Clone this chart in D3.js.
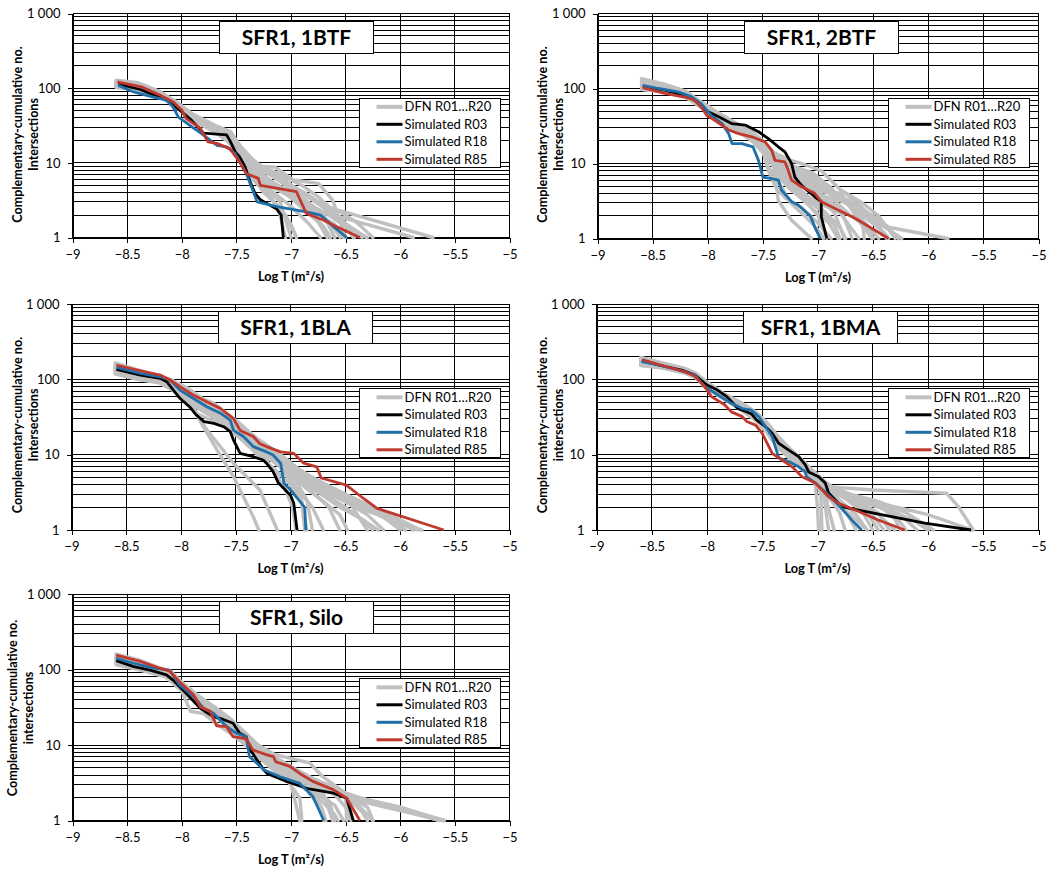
<!DOCTYPE html>
<html><head><meta charset="utf-8">
<script src="https://cdn.jsdelivr.net/npm/d3@7"></script>
<style>
body{margin:0;background:#fff;}
svg{display:block;}
text{font-family:Lato,'Open Sans',sans-serif;fill:#000;}
</style>
</head><body>
<svg id="c" width="1050" height="872"></svg>
<script>
// ---------- labels ----------
const xTicks = [-9,-8.5,-8,-7.5,-7,-6.5,-6,-5.5,-5];
const yTicks = [1,10,100,1000];
const yTickLabels = ["1","10","100","1 000"];
const titles = ["SFR1, 1BTF","SFR1, 2BTF","SFR1, 1BLA","SFR1, 1BMA","SFR1, Silo"];
const yTitleLine1 = "Complementary-cumulative no.";
const yTitleLine2 = ["Intersections","Intersections","Intersections","intersections","intersections"];
const xTitle = "Log T (m\u00B2/s)";
const legendLabels = ["DFN R01\u2026R20","Simulated R03","Simulated R18","Simulated R85"];

// ---------- 1BTF ----------
const dfn1BTF = [
[[-8.6,128],[-8.4,118],[-8.2,90],[-8.05,62],[-7.9,42],[-7.7,30],[-7.55,24],[-7.45,14],[-7.3,9],[-7.15,8.8],[-6.98,5.9],[-6.75,5.3],[-6.62,3.2],[-6.5,1]],
[[-8.6,115],[-8.45,108],[-8.25,88],[-8.1,70],[-7.95,45],[-7.75,32],[-7.6,26],[-7.5,18],[-7.35,10],[-7.1,6],[-6.9,4],[-6.74,2.85],[-6.56,2.3],[-5.7,1]],
[[-8.6,105],[-8.4,100],[-8.2,82],[-8.05,60],[-7.9,40],[-7.7,28],[-7.55,22],[-7.45,13],[-7.3,7],[-7.0,4],[-6.8,2.4],[-6.56,1.9],[-5.88,1]],
[[-8.6,120],[-8.35,110],[-8.15,78],[-8.0,52],[-7.85,36],[-7.65,27],[-7.5,16],[-7.4,9],[-7.25,5],[-7.1,3],[-7.0,1]],
[[-8.6,110],[-8.4,104],[-8.2,85],[-8.05,58],[-7.9,38],[-7.7,29],[-7.55,20],[-7.45,11],[-7.35,6],[-7.2,3.5],[-7.05,2],[-6.95,1]],
[[-8.6,125],[-8.4,112],[-8.2,88],[-8.05,64],[-7.9,44],[-7.7,31],[-7.55,25],[-7.45,15],[-7.35,10],[-7.2,7],[-7.0,4.5],[-6.85,3],[-6.7,2],[-6.6,1]],
[[-8.6,108],[-8.45,100],[-8.25,84],[-8.1,68],[-7.95,43],[-7.75,30],[-7.6,22],[-7.5,15],[-7.4,9],[-7.25,6],[-7.05,4],[-6.9,2.5],[-6.75,1.6],[-6.67,1]],
[[-8.6,118],[-8.4,108],[-8.2,86],[-8.05,60],[-7.9,41],[-7.7,30],[-7.55,23],[-7.45,14],[-7.35,8],[-7.2,5],[-7.0,3.5],[-6.8,2.2],[-6.6,1.5],[-6.52,1]],
[[-8.6,112],[-8.4,103],[-8.2,80],[-8.05,57],[-7.9,38],[-7.7,27],[-7.55,19],[-7.45,12],[-7.3,7.5],[-7.15,5],[-6.95,3.2],[-6.7,2.2],[-6.5,1.4],[-6.43,1]],
[[-8.6,102],[-8.45,97],[-8.25,80],[-8.1,66],[-7.95,42],[-7.75,29],[-7.6,21],[-7.5,14],[-7.4,8.5],[-7.2,5.5],[-7.0,3.8],[-6.8,2.6],[-6.55,1.7],[-6.31,1]],
[[-8.6,122],[-8.4,113],[-8.2,90],[-8.05,63],[-7.9,42],[-7.7,31],[-7.55,24],[-7.45,16],[-7.35,11],[-7.2,7.5],[-7.05,5],[-6.9,3.5],[-6.7,2],[-6.6,1]],
[[-8.6,106],[-8.4,99],[-8.2,80],[-8.05,55],[-7.9,37],[-7.7,26],[-7.55,18],[-7.45,11],[-7.35,6.5],[-7.25,4],[-7.1,2.5],[-7.0,1.5],[-6.95,1]],
[[-8.6,116],[-8.4,107],[-8.2,86],[-8.05,61],[-7.9,40],[-7.7,29],[-7.55,22],[-7.45,13],[-7.3,8],[-7.1,6.5],[-6.9,4],[-6.7,2.5],[-6.45,1.3],[-6.35,1]],
[[-8.6,111],[-8.4,102],[-8.2,83],[-8.05,59],[-7.9,39],[-7.7,28],[-7.55,21],[-7.45,12.5],[-7.35,7],[-7.2,4.5],[-7.0,2.6],[-6.85,1.6],[-6.73,1]],
[[-8.6,124],[-8.4,115],[-8.2,89],[-8.05,66],[-7.9,45],[-7.7,32],[-7.55,26],[-7.5,20],[-7.4,12],[-7.25,8],[-7.05,5.5],[-6.85,3.8],[-6.65,2.4],[-6.5,1.5],[-6.42,1]],
[[-8.6,104],[-8.4,98],[-8.2,79],[-8.05,56],[-7.9,37],[-7.7,27],[-7.55,19],[-7.45,12],[-7.35,7],[-7.2,4],[-7.1,2],[-7.05,1]],
[[-8.6,119],[-8.4,110],[-8.2,87],[-8.05,62],[-7.9,41],[-7.7,30],[-7.55,23],[-7.45,15],[-7.3,9.5],[-7.1,7],[-6.9,5],[-6.75,3.5],[-6.6,2.2],[-6.45,1.3],[-6.3,1]],
[[-8.6,109],[-8.4,101],[-8.2,82],[-8.05,58],[-7.9,39],[-7.7,28],[-7.55,20],[-7.45,13],[-7.35,8],[-7.15,5],[-6.95,3],[-6.8,2],[-6.7,1.4],[-6.64,1]],
[[-8.6,113],[-8.4,105],[-8.2,84],[-8.05,60],[-7.9,40],[-7.7,29],[-7.55,21],[-7.45,14],[-7.3,9],[-7.15,6.5],[-7.0,4.8],[-6.8,3.2],[-6.7,2.6],[-6.55,2.2],[-6.4,1.6],[-6.25,1]],
[[-8.6,121],[-8.4,111],[-8.2,88],[-8.05,63],[-7.9,43],[-7.7,31],[-7.55,24],[-7.45,14],[-7.35,9],[-7.2,6],[-7.05,4.2],[-6.9,3],[-6.75,2],[-6.6,1.3],[-6.55,1]]
];
const r03_1BTF = [[-8.58,113],[-8.38,96],[-8.14,69],[-8.02,51],[-7.91,37],[-7.8,25],[-7.59,23.7],[-7.56,20],[-7.51,14],[-7.47,12],[-7.42,8.8],[-7.38,5.9],[-7.33,3.9],[-7.28,3.2],[-7.13,2.4],[-7.09,2],[-7.07,1]];
const r18_1BTF = [[-8.58,109],[-8.44,89],[-8.26,76],[-8.14,69],[-8.08,56],[-8.03,41],[-7.91,30.5],[-7.8,23.5],[-7.68,17.2],[-7.59,16.4],[-7.51,13.3],[-7.47,10.3],[-7.41,7.2],[-7.35,4.3],[-7.31,3],[-7.13,2.6],[-6.86,2.2],[-6.73,2],[-6.61,1.4],[-6.49,1]];
const r85_1BTF = [[-8.59,121],[-8.37,104],[-8.23,85],[-8.08,66],[-8.03,56],[-8,51],[-7.96,39],[-7.83,29],[-7.76,19.1],[-7.68,18.2],[-7.56,15.5],[-7.47,10.3],[-7.41,7.2],[-7.3,6.2],[-7.28,5],[-6.95,4.1],[-6.86,2.1],[-6.7,1.7],[-6.61,1.46],[-6.37,1]];

// ---------- 2BTF ----------
const dfn2BTF = [
[[-8.6,135],[-8.4,115],[-8.2,92],[-8.05,65],[-7.9,47],[-7.75,35],[-7.6,27],[-7.5,20],[-7.4,14],[-7.25,11],[-7.15,10],[-6.97,8],[-6.8,4.5],[-6.6,3],[-6.45,2],[-6.3,1]],
[[-8.6,100],[-8.4,92],[-8.2,78],[-8.05,57],[-7.9,39],[-7.75,29],[-7.6,21],[-7.5,15],[-7.4,9],[-7.36,3.2],[-7.24,1.75],[-7.06,1]],
[[-8.6,118],[-8.4,104],[-8.2,85],[-8.05,60],[-7.9,43],[-7.75,32],[-7.6,24],[-7.5,17],[-7.4,11],[-7.3,7],[-7.15,5],[-7.0,3.5],[-6.85,2.2],[-6.76,1]],
[[-8.6,110],[-8.4,100],[-8.2,83],[-8.05,58],[-7.9,41],[-7.75,30],[-7.6,23],[-7.5,16],[-7.45,8],[-7.39,5],[-7.3,3.5],[-7.15,2.6],[-7.0,1.6],[-6.88,1]],
[[-8.6,125],[-8.4,110],[-8.2,88],[-8.05,62],[-7.9,44],[-7.75,33],[-7.6,25],[-7.5,18],[-7.4,12],[-7.25,8.5],[-7.1,6],[-6.95,4.5],[-6.78,3.8],[-6.7,2.5],[-6.6,1.5],[-6.51,1]],
[[-8.6,105],[-8.4,96],[-8.2,80],[-8.05,56],[-7.9,40],[-7.75,29],[-7.6,22],[-7.5,15],[-7.4,10],[-7.3,6.5],[-7.15,4],[-7.0,3],[-6.8,2.2],[-6.63,1]],
[[-8.6,115],[-8.4,103],[-8.2,86],[-8.05,61],[-7.9,42],[-7.75,31],[-7.6,23],[-7.5,17],[-7.4,11.5],[-7.3,8],[-7.15,6],[-6.98,4.2],[-6.75,4],[-6.6,2.6],[-6.45,1.6],[-6.24,1]],
[[-8.6,98],[-8.4,91],[-8.2,77],[-8.05,55],[-7.9,38],[-7.75,28],[-7.6,20],[-7.5,14],[-7.45,9],[-7.35,5.5],[-7.25,3],[-7.12,2],[-7.0,1.3],[-6.95,1]],
[[-8.6,128],[-8.4,112],[-8.2,90],[-8.05,63],[-7.9,45],[-7.75,34],[-7.6,26],[-7.5,19],[-7.4,13],[-7.25,9.5],[-7.05,7.5],[-6.9,5],[-6.75,3],[-6.55,2.2],[-6.35,1.4],[-5.82,1]],
[[-8.6,108],[-8.4,98],[-8.2,82],[-8.05,58],[-7.9,41],[-7.75,30],[-7.6,22],[-7.5,16],[-7.4,10.5],[-7.3,7.5],[-7.15,5],[-6.95,3.3],[-6.8,2.6],[-6.69,1]],
[[-8.6,120],[-8.4,107],[-8.2,87],[-8.05,61],[-7.9,43],[-7.75,32],[-7.6,24],[-7.5,18],[-7.4,12],[-7.3,8.5],[-7.1,7],[-6.95,5.5],[-6.8,3.5],[-6.65,2.2],[-6.45,1]],
[[-8.6,102],[-8.4,94],[-8.2,79],[-8.05,56],[-7.9,39],[-7.75,29],[-7.6,21],[-7.5,15],[-7.4,9.5],[-7.3,6],[-7.2,4],[-7.05,2.5],[-6.9,1.6],[-6.82,1]],
[[-8.6,112],[-8.4,101],[-8.2,84],[-8.05,59],[-7.9,42],[-7.75,31],[-7.6,23],[-7.5,17],[-7.4,11],[-7.3,7.8],[-7.15,5.5],[-7.0,4],[-6.85,3.2],[-6.7,2],[-6.55,1.4],[-6.5,1]],
[[-8.6,122],[-8.4,108],[-8.2,88],[-8.05,62],[-7.9,44],[-7.75,33],[-7.6,25],[-7.5,18],[-7.4,12.5],[-7.25,9],[-7.1,7.5],[-6.97,6],[-6.85,4],[-6.7,2.8],[-6.55,1.8],[-6.4,1.2],[-6.36,1]],
[[-8.6,106],[-8.4,97],[-8.2,81],[-8.05,57],[-7.9,40],[-7.75,30],[-7.6,22],[-7.5,16],[-7.4,10],[-7.3,7],[-7.2,5],[-7.05,3.2],[-6.9,2],[-6.8,1.4],[-6.75,1]],
[[-8.6,116],[-8.4,104],[-8.2,86],[-8.05,60],[-7.9,43],[-7.75,31],[-7.6,24],[-7.5,17],[-7.4,11],[-7.28,8],[-7.1,6.5],[-6.9,4.5],[-6.7,3],[-6.5,2],[-6.35,1.3],[-6.27,1]],
[[-8.6,97],[-8.4,90],[-8.2,76],[-8.05,55],[-7.9,38],[-7.75,28],[-7.6,21],[-7.5,15],[-7.42,10],[-7.35,6.5],[-7.25,4.5],[-7.1,3],[-7.0,2],[-6.92,1]],
[[-8.6,113],[-8.4,102],[-8.2,84],[-8.05,59],[-7.9,42],[-7.75,31],[-7.6,23],[-7.5,17],[-7.4,11],[-7.25,8.5],[-7.05,6],[-6.9,4.2],[-6.72,3.2],[-6.6,1.8],[-6.58,1]],
[[-8.6,124],[-8.4,109],[-8.2,89],[-8.05,62],[-7.9,44],[-7.75,32],[-7.6,25],[-7.5,18],[-7.4,12],[-7.3,9],[-7.15,7],[-7.0,5],[-6.85,3.5],[-6.65,2.5],[-6.45,1.5],[-6.38,1]],
[[-8.6,104],[-8.4,95],[-8.2,80],[-8.05,57],[-7.9,40],[-7.75,29],[-7.6,22],[-7.5,15.5],[-7.4,10],[-7.32,6],[-7.2,4.2],[-7.1,3.3],[-6.98,2.4],[-6.85,1.5],[-6.8,1]]
];
const r03_2BTF = [[-8.59,107],[-8.39,95],[-8.21,81],[-8.12,70],[-8.03,51.5],[-7.9,42],[-7.78,34],[-7.66,32.5],[-7.54,26.5],[-7.45,21.5],[-7.36,16.7],[-7.3,14.3],[-7.24,10],[-7.21,6.6],[-7.15,5.1],[-7.03,3.6],[-6.97,3.1],[-6.97,1.95],[-6.92,1]];
const r18_2BTF = [[-8.59,110],[-8.45,100],[-8.27,90],[-8.15,78],[-8.06,63],[-7.97,44],[-7.87,34],[-7.81,25],[-7.78,18.4],[-7.69,18.4],[-7.59,16.7],[-7.54,11],[-7.5,6.6],[-7.42,6.3],[-7.36,6],[-7.33,4.4],[-7.24,3.1],[-7.18,2.8],[-7.07,2],[-7.03,1.43],[-6.98,1]];
const r85_2BTF = [[-8.59,103],[-8.39,86],[-8.21,77],[-8.12,70],[-8.06,57],[-8.01,44],[-7.94,38],[-7.81,28],[-7.72,25],[-7.6,22.7],[-7.48,19.4],[-7.42,15],[-7.39,11],[-7.3,10.5],[-7.27,8.1],[-7.24,6],[-7.15,4.9],[-7.03,4],[-6.97,3.1],[-6.66,1.85],[-6.36,1]];

// ---------- 1BLA ----------
const dfn1BLA = [
[[-8.6,120],[-8.4,103],[-8.2,92],[-8.05,70],[-7.9,45],[-7.82,27],[-7.67,11.5],[-7.52,5.1],[-7.34,1.5],[-7.29,1]],
[[-8.6,118],[-8.4,100],[-8.2,90],[-8.05,68],[-7.9,42],[-7.76,21],[-7.52,7.7],[-7.28,3.4],[-7.12,1]],
[[-8.6,165],[-8.4,135],[-8.2,112],[-8.1,100],[-7.95,78],[-7.8,55],[-7.7,45],[-7.6,36],[-7.5,28],[-7.35,18],[-7.2,13],[-7.05,9],[-6.9,6],[-6.7,4],[-6.5,2.6],[-6.3,1.8],[-5.85,1]],
[[-8.6,150],[-8.4,125],[-8.2,105],[-8.1,95],[-8.0,70],[-7.85,50],[-7.7,38],[-7.55,28],[-7.4,18],[-7.25,12],[-7.1,8],[-6.95,5.5],[-6.8,4],[-6.6,2.8],[-6.4,2],[-6.0,1.3],[-5.8,1]],
[[-8.6,140],[-8.4,120],[-8.2,100],[-8.1,92],[-8.0,66],[-7.85,46],[-7.7,35],[-7.55,26],[-7.4,17],[-7.25,11],[-7.1,7.5],[-7.0,5],[-6.9,2.5],[-6.85,1]],
[[-8.6,130],[-8.4,112],[-8.2,97],[-8.1,90],[-8.0,64],[-7.85,44],[-7.7,33],[-7.55,24],[-7.4,16],[-7.25,11],[-7.1,7.5],[-6.95,5],[-6.75,3.2],[-6.55,2],[-6.35,1.4],[-6.2,1]],
[[-8.6,155],[-8.4,130],[-8.2,108],[-8.1,97],[-8.0,75],[-7.85,52],[-7.7,40],[-7.55,29],[-7.4,19],[-7.25,13],[-7.1,9],[-6.95,6.5],[-6.8,4.5],[-6.6,3.2],[-6.4,2.3],[-6.2,1.6],[-5.95,1]],
[[-8.6,125],[-8.4,108],[-8.2,95],[-8.1,88],[-8.0,63],[-7.85,42],[-7.7,31],[-7.55,23],[-7.4,15],[-7.25,10],[-7.1,7],[-7.0,4.5],[-6.9,3],[-6.8,2],[-6.7,1]],
[[-8.6,145],[-8.4,122],[-8.2,102],[-8.1,93],[-8.0,68],[-7.85,48],[-7.7,36],[-7.55,26],[-7.4,17],[-7.25,12],[-7.1,8.5],[-6.95,6],[-6.8,4.2],[-6.6,3],[-6.45,2.2],[-6.3,1]],
[[-8.6,135],[-8.4,116],[-8.2,99],[-8.1,91],[-8.0,65],[-7.85,45],[-7.7,34],[-7.55,25],[-7.4,16],[-7.25,11],[-7.1,7.8],[-7.0,5.5],[-6.85,3.5],[-6.7,2.4],[-6.55,1.6],[-6.48,1]],
[[-8.6,160],[-8.4,132],[-8.2,110],[-8.1,99],[-8.0,77],[-7.9,62],[-7.8,55],[-7.7,48],[-7.6,37],[-7.45,25],[-7.3,16],[-7.15,11],[-7.0,7],[-6.85,5],[-6.7,3.6],[-6.5,2.5],[-6.25,1.8],[-6.0,1.3],[-5.88,1]],
[[-8.6,128],[-8.4,110],[-8.2,96],[-8.1,89],[-8.0,62],[-7.85,43],[-7.7,32],[-7.55,23],[-7.4,15],[-7.25,10.5],[-7.1,7.2],[-6.95,4.5],[-6.85,2.5],[-6.8,1]],
[[-8.6,148],[-8.4,124],[-8.2,104],[-8.1,94],[-8.0,69],[-7.85,49],[-7.7,37],[-7.55,27],[-7.4,18],[-7.25,12.5],[-7.1,8.8],[-6.95,6.2],[-6.75,4],[-6.55,2.8],[-6.35,2],[-6.1,1.4],[-5.95,1]],
[[-8.6,138],[-8.4,118],[-8.2,100],[-8.1,92],[-8.0,66],[-7.85,46],[-7.7,35],[-7.55,25],[-7.4,17],[-7.25,11.5],[-7.1,8],[-6.95,5.5],[-6.8,3.8],[-6.6,2.5],[-6.4,1.6],[-6.25,1]],
[[-8.6,122],[-8.4,106],[-8.2,94],[-8.1,87],[-8.0,61],[-7.85,42],[-7.7,31],[-7.55,22],[-7.4,14],[-7.25,9.5],[-7.15,6],[-7.05,3.5],[-6.98,2],[-6.95,1]],
[[-8.6,152],[-8.4,127],[-8.2,106],[-8.1,96],[-8.0,72],[-7.85,51],[-7.7,39],[-7.55,28],[-7.4,18.5],[-7.25,12.5],[-7.1,9],[-6.95,6.5],[-6.75,4.5],[-6.5,3],[-6.3,2.2],[-6.05,1.5],[-5.82,1]],
[[-8.6,132],[-8.4,114],[-8.2,98],[-8.1,90],[-8.0,64],[-7.85,45],[-7.7,33],[-7.55,24],[-7.4,16],[-7.25,10.5],[-7.1,7.2],[-6.95,5],[-6.8,3.2],[-6.65,2],[-6.55,1]],
[[-8.6,142],[-8.4,120],[-8.2,101],[-8.1,92],[-8.0,67],[-7.85,47],[-7.7,35],[-7.55,26],[-7.4,17],[-7.25,11.8],[-7.1,8.2],[-6.95,5.8],[-6.75,3.8],[-6.5,2.4],[-6.3,1.6],[-6.15,1]],
[[-8.6,118],[-8.4,102],[-8.2,92],[-8.05,72],[-7.95,55],[-7.85,35],[-7.75,30],[-7.6,24],[-7.45,16],[-7.3,10],[-7.15,6.5],[-7.0,4],[-6.9,2.5],[-6.87,1]],
[[-8.6,158],[-8.4,131],[-8.2,109],[-8.1,98],[-8.0,74],[-7.85,53],[-7.7,41],[-7.55,30],[-7.4,20],[-7.25,13.5],[-7.1,9.5],[-6.95,6.8],[-6.8,5],[-6.6,3.5],[-6.45,2.5],[-6.2,1.7],[-6.0,1]]
];
const r03_1BLA = [[-8.59,136],[-8.37,114],[-8.19,103],[-8.13,93],[-8.07,72],[-8.01,56],[-7.92,43],[-7.86,33.6],[-7.79,27.5],[-7.7,26],[-7.61,23.5],[-7.55,20.2],[-7.52,15.6],[-7.46,10.4],[-7.34,9.4],[-7.25,8.5],[-7.22,7.7],[-7.16,6],[-7.11,4.2],[-7.0,2.9],[-6.97,2.26],[-6.94,1]];
const r18_1BLA = [[-8.59,144],[-8.37,120],[-8.19,108],[-8.1,98],[-8.01,72],[-7.89,56],[-7.76,43],[-7.64,35.5],[-7.55,28.8],[-7.52,21],[-7.43,17.4],[-7.34,12.8],[-7.22,10.9],[-7.16,9.9],[-7.09,7.7],[-7.06,4.2],[-7.0,3.4],[-6.87,2],[-6.86,1]];
const r85_1BLA = [[-8.59,155],[-8.37,130],[-8.19,114],[-8.1,98],[-8.01,80],[-7.89,62],[-7.76,50],[-7.64,41],[-7.52,30],[-7.46,21],[-7.34,17.4],[-7.28,14],[-7.22,12.8],[-7.09,10.9],[-6.97,10.4],[-6.88,7.7],[-6.76,6.9],[-6.72,4.9],[-6.49,3.95],[-6.33,2.6],[-6.21,1.94],[-5.6,1]];

// ---------- 1BMA ----------
const dfn1BMA = [
[[-8.6,195],[-8.4,165],[-8.2,140],[-8.1,120],[-8,92],[-7.85,65],[-7.7,50],[-7.55,36],[-7.45,26],[-7.35,17],[-7.25,12],[-7.1,7.5],[-6.95,3.8],[-6.5,3.4],[-5.83,3.07],[-5.72,2],[-5.59,1]],
[[-8.6,155],[-8.4,142],[-8.2,122],[-8.1,106],[-8,76],[-7.85,55],[-7.7,40],[-7.55,28],[-7.45,19],[-7.35,12],[-7.25,9],[-7.1,6],[-7.02,4],[-7,2],[-6.99,1]],
[[-8.6,165],[-8.4,148],[-8.2,128],[-8.1,110],[-8,80],[-7.85,58],[-7.7,43],[-7.55,30],[-7.45,21],[-7.35,13.5],[-7.25,10],[-7.1,6.5],[-7,4],[-6.97,3],[-6.96,1]],
[[-8.6,170],[-8.4,150],[-8.2,130],[-8.1,112],[-8,82],[-7.85,60],[-7.7,45],[-7.55,32],[-7.45,22],[-7.35,14],[-7.25,10.5],[-7.1,6.2],[-7,4.3],[-6.92,2.5],[-6.85,1]],
[[-8.6,180],[-8.4,155],[-8.2,133],[-8.1,114],[-8,85],[-7.85,61],[-7.7,46],[-7.55,33],[-7.45,23],[-7.35,15],[-7.25,11],[-7.1,6.8],[-7,5],[-6.9,3.5],[-6.8,2.5],[-6.65,1.6],[-6.55,1]],
[[-8.6,160],[-8.4,145],[-8.2,125],[-8.1,108],[-8,78],[-7.85,57],[-7.7,42],[-7.55,29],[-7.45,20],[-7.35,13],[-7.25,9.5],[-7.1,6.3],[-7,4.5],[-6.9,3.8],[-6.75,2.6],[-6.6,1.8],[-6.5,1]],
[[-8.6,175],[-8.4,152],[-8.2,131],[-8.1,113],[-8,84],[-7.85,60],[-7.7,45],[-7.55,32],[-7.45,22],[-7.35,14.5],[-7.25,10.5],[-7.1,7],[-7,5],[-6.85,3.5],[-6.7,2.7],[-6.55,2],[-6.4,1]],
[[-8.6,185],[-8.4,158],[-8.2,136],[-8.1,116],[-8,88],[-7.85,63],[-7.7,48],[-7.55,34],[-7.45,24],[-7.35,16],[-7.25,11.5],[-7.1,7.2],[-7,5.2],[-6.85,3.6],[-6.7,2.8],[-6.5,2.2],[-6.3,1.6],[-6.2,1]],
[[-8.6,172],[-8.4,151],[-8.2,130],[-8.1,112],[-8,83],[-7.85,59],[-7.7,44],[-7.55,31],[-7.45,22],[-7.35,14],[-7.25,10],[-7.1,6.6],[-7,4.8],[-6.85,3.2],[-6.65,2.5],[-6.4,1.9],[-6.15,1.4],[-6,1]],
[[-8.6,190],[-8.4,162],[-8.2,138],[-8.1,118],[-8,90],[-7.85,64],[-7.7,49],[-7.55,35],[-7.45,25],[-7.35,16.5],[-7.25,12],[-7.1,7.4],[-7,5.4],[-6.9,3.9],[-6.7,3],[-6.45,2.4],[-6.2,1.7],[-5.95,1]],
[[-8.6,178],[-8.4,154],[-8.2,132],[-8.1,114],[-8,85],[-7.85,61],[-7.7,46],[-7.55,33],[-7.45,23],[-7.35,15],[-7.25,11],[-7.1,7],[-7,5],[-6.9,3.6],[-6.7,2.8],[-6.4,2.2],[-6,1.6],[-5.6,1]],
[[-8.6,168],[-8.4,149],[-8.2,129],[-8.1,111],[-8,81],[-7.85,58],[-7.7,44],[-7.55,31],[-7.45,21],[-7.35,14],[-7.25,10],[-7.1,6.5],[-7,4.6],[-6.85,3.1],[-6.65,2.3],[-6.45,1.6],[-6.3,1]],
[[-8.6,158],[-8.4,143],[-8.2,123],[-8.1,107],[-8,77],[-7.85,56],[-7.7,41],[-7.55,29],[-7.45,20],[-7.35,12.5],[-7.25,9.2],[-7.1,6.1],[-7,4.2],[-6.9,3],[-6.75,1.8],[-6.65,1]],
[[-8.6,163],[-8.4,146],[-8.2,126],[-8.1,109],[-8,79],[-7.85,57],[-7.7,42],[-7.55,30],[-7.45,20],[-7.35,13],[-7.25,9.8],[-7.1,6.4],[-7,4.4],[-6.9,2.8],[-6.8,1.7],[-6.75,1]],
[[-8.6,183],[-8.4,157],[-8.2,135],[-8.1,115],[-8,87],[-7.85,62],[-7.7,47],[-7.55,34],[-7.45,24],[-7.35,15.5],[-7.25,11.2],[-7.1,7.1],[-7,5.1],[-6.88,3.5],[-6.7,2.5],[-6.55,1.7],[-6.45,1]],
[[-8.6,188],[-8.4,160],[-8.2,137],[-8.1,117],[-8,89],[-7.85,63],[-7.7,48],[-7.55,35],[-7.45,25],[-7.35,16],[-7.25,11.8],[-7.1,7.3],[-7,5.3],[-6.9,3.7],[-6.7,2.9],[-6.45,2.3],[-6.25,1.6],[-6.1,1]],
[[-8.6,152],[-8.4,141],[-8.2,121],[-8.1,105],[-8,75],[-7.85,55],[-7.7,40],[-7.55,28],[-7.45,19],[-7.35,12],[-7.25,9],[-7.12,6],[-7.02,4.2],[-6.9,2.6],[-6.7,1.6],[-6.55,1]],
[[-8.6,176],[-8.4,153],[-8.2,131],[-8.1,113],[-8,84],[-7.85,60],[-7.7,45],[-7.55,32],[-7.45,22],[-7.35,14.5],[-7.25,10.6],[-7.1,6.9],[-7,4.9],[-6.85,3.3],[-6.65,2.4],[-6.45,1.7],[-6.35,1]],
[[-8.6,166],[-8.4,147],[-8.2,127],[-8.1,110],[-8,80],[-7.85,58],[-7.7,43],[-7.55,30],[-7.45,21],[-7.35,13.5],[-7.25,10],[-7.1,6.4],[-7,4.5],[-6.95,3.4],[-6.9,1]],
[[-8.6,181],[-8.4,156],[-8.2,134],[-8.1,115],[-8,86],[-7.85,62],[-7.7,47],[-7.55,33],[-7.45,23],[-7.35,15],[-7.25,11],[-7.1,7],[-7,5],[-6.85,3.4],[-6.6,2.6],[-6.4,1.9],[-6.3,1.4],[-6.25,1]]
];
const r03_1BMA = [[-8.59,177],[-8.44,155],[-8.23,133],[-8.11,114],[-8.0,84],[-7.91,72.6],[-7.82,59],[-7.72,41],[-7.6,35],[-7.55,28.8],[-7.47,23.5],[-7.41,19.2],[-7.35,14.1],[-7.26,11.5],[-7.17,9.4],[-7.11,7.3],[-7.08,5.9],[-6.99,5.1],[-6.93,4.2],[-6.9,3.1],[-6.78,2.04],[-6.63,1.84],[-6.33,1.5],[-6.03,1.23],[-5.61,1]];
const r18_1BMA = [[-8.59,172],[-8.44,155],[-8.26,133],[-8.11,114],[-8.02,80],[-7.9,62],[-7.78,48],[-7.68,41],[-7.6,39],[-7.53,31.8],[-7.47,23.5],[-7.41,17.4],[-7.35,9],[-7.26,8.1],[-7.17,6.9],[-7.11,5.9],[-7.1,5.1],[-7.02,4.2],[-6.93,3.2],[-6.81,2.15],[-6.69,1.36],[-6.6,1]];
const r85_1BMA = [[-8.58,181],[-8.42,155],[-8.2,126],[-8.11,110],[-8.02,80],[-7.96,59],[-7.84,46],[-7.78,37],[-7.68,32],[-7.64,27.5],[-7.56,24.7],[-7.5,19.2],[-7.41,10.4],[-7.32,8.5],[-7.23,6.9],[-7.14,5.1],[-7.02,4.2],[-6.9,2.77],[-6.81,2.26],[-6.66,1.84],[-6.45,1.36],[-6.21,1]];

// ---------- Silo ----------
const dfnSilo = [
[[-8.6,160],[-8.4,135],[-8.2,105],[-8.1,95],[-8,68],[-7.85,45],[-7.7,32],[-7.55,22],[-7.45,16],[-7.3,10],[-7.15,7.5],[-7.07,7],[-6.83,5.8],[-6.71,3.8],[-6.5,2.3],[-6.2,1.6],[-5.6,1]],
[[-8.6,115],[-8.4,100],[-8.15,80],[-8,52],[-7.92,28],[-7.8,26],[-7.7,20],[-7.55,14],[-7.45,11],[-7.3,7],[-7.15,4.5],[-7,3],[-6.92,1]],
[[-8.6,140],[-8.4,118],[-8.2,95],[-8.1,86],[-8,60],[-7.85,40],[-7.7,28],[-7.55,19],[-7.45,14],[-7.3,8.5],[-7.15,6],[-7,4.5],[-6.8,3.2],[-6.6,2.5],[-6.5,2.1],[-6,1.5],[-5.6,1]],
[[-8.6,125],[-8.4,108],[-8.2,90],[-8.1,80],[-8,56],[-7.85,36],[-7.7,26],[-7.55,17],[-7.45,13],[-7.3,7.5],[-7.15,5],[-7,3.6],[-6.85,2.5],[-6.75,1.6],[-6.7,1]],
[[-8.6,150],[-8.4,126],[-8.2,100],[-8.1,90],[-8,64],[-7.85,43],[-7.7,30],[-7.55,21],[-7.45,15],[-7.3,9.5],[-7.15,6.8],[-7,5],[-6.8,3.5],[-6.6,2.6],[-6.5,2.2],[-6.1,1.6],[-5.65,1]],
[[-8.6,130],[-8.4,112],[-8.2,92],[-8.1,82],[-8,57],[-7.85,38],[-7.7,27],[-7.55,18],[-7.45,13.5],[-7.3,8],[-7.15,5.5],[-7,4],[-6.8,2.8],[-6.65,1.8],[-6.6,1]],
[[-8.6,145],[-8.4,122],[-8.2,98],[-8.1,88],[-8,62],[-7.85,42],[-7.7,29],[-7.55,20],[-7.45,14.5],[-7.3,9],[-7.15,6.5],[-7,4.8],[-6.8,3.4],[-6.6,2.6],[-6.45,2],[-6.25,1]],
[[-8.6,120],[-8.4,104],[-8.2,88],[-8.1,78],[-8,54],[-7.85,35],[-7.7,25],[-7.55,16.5],[-7.45,12.5],[-7.3,7.2],[-7.15,4.8],[-7,3.5],[-6.8,2.4],[-6.6,1.6],[-6.52,1]],
[[-8.6,155],[-8.4,130],[-8.2,103],[-8.1,92],[-8,66],[-7.85,44],[-7.7,31],[-7.55,21.5],[-7.45,15.5],[-7.3,9.8],[-7.15,7],[-7,5.2],[-6.8,3.6],[-6.6,2.7],[-6.5,2.2],[-6.2,1.7],[-5.6,1]],
[[-8.6,135],[-8.4,115],[-8.2,93],[-8.1,84],[-8,58],[-7.85,39],[-7.7,27.5],[-7.55,18.5],[-7.45,13.8],[-7.3,8.3],[-7.15,5.8],[-7,4.2],[-6.8,3],[-6.6,2.2],[-6.5,1.5],[-6.45,1]],
[[-8.6,138],[-8.4,117],[-8.2,94],[-8.1,85],[-8,59],[-7.85,39.5],[-7.7,28],[-7.55,19],[-7.45,14],[-7.3,8.6],[-7.15,6.2],[-7,4.6],[-6.8,3.3],[-6.6,2.5],[-6.5,2],[-6.05,1.4],[-5.62,1]],
[[-8.6,128],[-8.4,110],[-8.2,91],[-8.1,81],[-8,56],[-7.85,37],[-7.7,26.5],[-7.55,17.5],[-7.45,13],[-7.3,7.8],[-7.15,5.3],[-7,3.8],[-6.85,2.6],[-6.7,1.7],[-6.6,1.2],[-6.57,1]],
[[-8.6,148],[-8.4,124],[-8.2,99],[-8.1,89],[-8,63],[-7.85,42.5],[-7.7,30],[-7.55,20.5],[-7.45,15],[-7.3,9.3],[-7.15,6.6],[-7,4.9],[-6.8,3.5],[-6.6,2.6],[-6.45,2],[-6.3,1.5],[-6.25,1]],
[[-8.6,118],[-8.4,102],[-8.2,87],[-8.1,77],[-8,53],[-7.85,34],[-7.7,24.5],[-7.55,16],[-7.45,12],[-7.3,7],[-7.15,4.6],[-7.02,3.2],[-6.92,2],[-6.9,1]],
[[-8.6,142],[-8.4,120],[-8.2,96],[-8.1,87],[-8,61],[-7.85,41],[-7.7,29],[-7.55,19.5],[-7.45,14.2],[-7.3,8.8],[-7.15,6.3],[-7,4.7],[-6.8,3.3],[-6.6,2.5],[-6.5,2.1],[-6.49,1]],
[[-8.6,132],[-8.4,113],[-8.2,92],[-8.1,83],[-8,57],[-7.85,38],[-7.7,27],[-7.55,18],[-7.45,13.3],[-7.3,8.1],[-7.15,5.6],[-7,4.1],[-6.8,2.9],[-6.7,2.2],[-6.62,1]],
[[-8.6,152],[-8.4,128],[-8.2,101],[-8.1,91],[-8,65],[-7.85,43.5],[-7.7,30.5],[-7.55,21],[-7.45,15.2],[-7.3,9.6],[-7.15,6.9],[-7,5],[-6.8,3.6],[-6.6,2.7],[-6.5,2.3],[-6.15,1.6],[-5.6,1]],
[[-8.6,122],[-8.4,106],[-8.2,89],[-8.1,79],[-8,55],[-7.85,35.5],[-7.7,25.5],[-7.55,17],[-7.45,12.8],[-7.3,7.5],[-7.15,5],[-7,3.7],[-6.85,2.7],[-6.72,1.5],[-6.68,1]],
[[-8.6,136],[-8.4,116],[-8.2,94],[-8.1,84],[-8,58.5],[-7.85,39],[-7.7,28],[-7.55,18.8],[-7.45,13.9],[-7.3,8.4],[-7.15,6],[-7,4.4],[-6.8,3.1],[-6.6,2.4],[-6.45,1.8],[-6.35,1.3],[-6.3,1]],
[[-8.6,146],[-8.4,123],[-8.2,98],[-8.1,88],[-8,62],[-7.85,42],[-7.7,29.5],[-7.55,20.2],[-7.45,14.8],[-7.3,9.2],[-7.15,6.6],[-7,4.9],[-6.8,3.5],[-6.6,2.6],[-6.5,2.2],[-6,1.5],[-5.65,1]]
];
const r03_Silo = [[-8.6,131],[-8.44,109],[-8.29,98],[-8.14,85],[-8.08,72.5],[-7.96,48.4],[-7.83,30.6],[-7.71,23.7],[-7.65,22.6],[-7.53,19.4],[-7.47,14.3],[-7.41,12.9],[-7.39,9.5],[-7.31,6.3],[-7.25,4.7],[-7.22,4.2],[-7.04,3.3],[-6.86,2.67],[-6.61,2.3],[-6.49,1.97],[-6.43,1]];
const r18_Silo = [[-8.6,141],[-8.44,121],[-8.26,104],[-8.11,98],[-8.02,62.5],[-7.89,43.7],[-7.8,30.6],[-7.71,26.3],[-7.59,17.6],[-7.5,14.3],[-7.41,12.9],[-7.38,7],[-7.31,5.7],[-7.25,4.7],[-7.1,3.8],[-6.92,3.1],[-6.8,2.08],[-6.7,1]];
const r85_Silo = [[-8.6,155],[-8.38,128],[-8.2,104],[-8.11,95],[-8.02,69],[-7.89,46],[-7.83,32],[-7.74,27.9],[-7.68,17.9],[-7.59,17.5],[-7.53,12.9],[-7.41,12.1],[-7.35,8.6],[-7.22,7.4],[-7.16,7],[-7.14,6],[-7.01,5.2],[-6.92,4.2],[-6.8,3.3],[-6.61,2.55],[-6.49,1.97],[-6.37,1]];

// ---------- assemble ----------
const panels = [
  {title:titles[0], y2:yTitleLine2[0], dfn:dfn1BTF, r03:r03_1BTF, r18:r18_1BTF, r85:r85_1BTF},
  {title:titles[1], y2:yTitleLine2[1], dfn:dfn2BTF, r03:r03_2BTF, r18:r18_2BTF, r85:r85_2BTF},
  {title:titles[2], y2:yTitleLine2[2], dfn:dfn1BLA, r03:r03_1BLA, r18:r18_1BLA, r85:r85_1BLA},
  {title:titles[3], y2:yTitleLine2[3], dfn:dfn1BMA, r03:r03_1BMA, r18:r18_1BMA, r85:r85_1BMA},
  {title:titles[4], y2:yTitleLine2[4], dfn:dfnSilo, r03:r03_Silo, r18:r18_Silo, r85:r85_Silo}
];

// layout (pixels)
const layout = [
  {x0:72.5, x1:509.5, y0:13.5, y1:237.5, yl1:17.3, yl2:33.3, ylc:121},
  {x0:597.5,x1:1038.5,y0:13.5, y1:238.5, yl1:542.3,yl2:558.3,ylc:121},
  {x0:71.5, x1:509.5, y0:304,  y1:530,   yl1:17.3, yl2:33.3, ylc:121},
  {x0:596.5,x1:1038.5,y0:304,  y1:530,   yl1:542.3,yl2:558.3,ylc:121},
  {x0:72.5, x1:509.5, y0:594,  y1:820.5, yl1:12.5, yl2:29,   ylc:114}
];
const GRAY = "#c0c0c0", BLACK = "#000000", BLUE = "#1f6fa8", RED = "#c0392f";

const svg = d3.select("#c");
svg.append("rect").attr("width",1050).attr("height",872).attr("fill","#fff");

panels.forEach((p,i) => {
  const L = layout[i];
  const x = d3.scaleLinear().domain([-9,-5]).range([L.x0,L.x1]);
  const y = d3.scaleLog().domain([1,1000]).range([L.y1,L.y0]);
  const g = svg.append("g");

  // grid
  const grid = g.append("g").attr("shape-rendering","crispEdges");
  grid.selectAll("line.h").data(y.ticks()).join("line")
    .attr("x1",L.x0).attr("x2",L.x1).attr("y1",d=>y(d)).attr("y2",d=>y(d))
    .attr("stroke","#000").attr("stroke-width",1);
  grid.selectAll("line.v").data(xTicks).join("line")
    .attr("x1",d=>x(d)).attr("x2",d=>x(d)).attr("y1",L.y0).attr("y2",L.y1)
    .attr("stroke","#000").attr("stroke-width",1);

  // axes
  const ax = g.append("g").attr("transform",`translate(${L.x0},0)`)
    .call(d3.axisLeft(y).tickValues(yTicks).tickFormat((d,j)=>yTickLabels[j]).tickSize(5).tickSizeOuter(0).tickPadding(7));
  const bx = g.append("g").attr("transform",`translate(0,${L.y1})`)
    .call(d3.axisBottom(x).tickValues(xTicks).tickFormat(d => (d<0?"\u2212":"") + Math.abs(d)).tickSize(5).tickSizeOuter(0).tickPadding(7));
  [ax,bx].forEach(a => {
    a.attr("font-family",null).attr("font-size",null);
    a.selectAll("text").style("font-size","13px").attr("fill","#000");
    a.selectAll("line,path").attr("stroke","#000").attr("shape-rendering","crispEdges");
  });

  // series
  const line = d3.line().x(d=>x(d[0])).y(d=>y(d[1]));
  g.append("g").selectAll("path").data(p.dfn).join("path")
    .attr("d",line).attr("fill","none").attr("stroke",GRAY).attr("stroke-width",3.4)
    .attr("stroke-linejoin","round").attr("stroke-linecap","round");
  [[p.r03,BLACK],[p.r18,BLUE],[p.r85,RED]].forEach(([s,c]) => {
    g.append("path").datum(s).attr("d",line).attr("fill","none").attr("stroke",c)
      .attr("stroke-width",2.8).attr("stroke-linejoin","round");
  });

  // title box
  const tb = {x:L.x0+147, y:L.y0+7.5, w:154, h:32};
  g.append("rect").attr("x",tb.x).attr("y",tb.y).attr("width",tb.w).attr("height",tb.h)
    .attr("fill","#fff").attr("stroke","#000").attr("stroke-width",1).attr("shape-rendering","crispEdges");
  g.append("text").attr("x",tb.x+tb.w/2).attr("y",tb.y+tb.h/2).attr("dy","0.36em")
    .attr("text-anchor","middle").style("font-size","21px").style("font-weight","bold").text(p.title);

  // legend
  const lg = {x:L.x1-150, y:L.y0+84.5, w:141, h:69};
  g.append("rect").attr("x",lg.x).attr("y",lg.y).attr("width",lg.w).attr("height",lg.h)
    .attr("fill","#fff").attr("stroke","#000").attr("stroke-width",1).attr("shape-rendering","crispEdges");
  const lcol = [GRAY,BLACK,BLUE,RED], lw = [4,3,3,3];
  legendLabels.forEach((t,j) => {
    const cy = lg.y + 8.8 + j*17.5;
    g.append("line").attr("x1",lg.x+17).attr("x2",lg.x+43).attr("y1",cy).attr("y2",cy)
      .attr("stroke",lcol[j]).attr("stroke-width",lw[j]);
    g.append("text").attr("x",lg.x+45).attr("y",cy).attr("dy","0.35em")
      .style("font-size","13px").text(t);
  });

  // axis titles
  g.append("text").attr("x",(L.x0+L.x1)/2).attr("y",L.y1+39).attr("dy","0.35em")
    .attr("text-anchor","middle").style("font-size","12.8px").style("font-weight","bold").text(xTitle);
  const cy = L.y0 + L.ylc;
  g.append("text").attr("transform",`translate(${L.yl1},${cy}) rotate(-90)`).attr("dy","0.35em")
    .attr("text-anchor","middle").style("font-size","12.6px").style("font-weight","bold").text(yTitleLine1);
  g.append("text").attr("transform",`translate(${L.yl2},${cy}) rotate(-90)`).attr("dy","0.35em")
    .attr("text-anchor","middle").style("font-size","12.6px").style("font-weight","bold").text(p.y2);
});
</script>
</body></html>
